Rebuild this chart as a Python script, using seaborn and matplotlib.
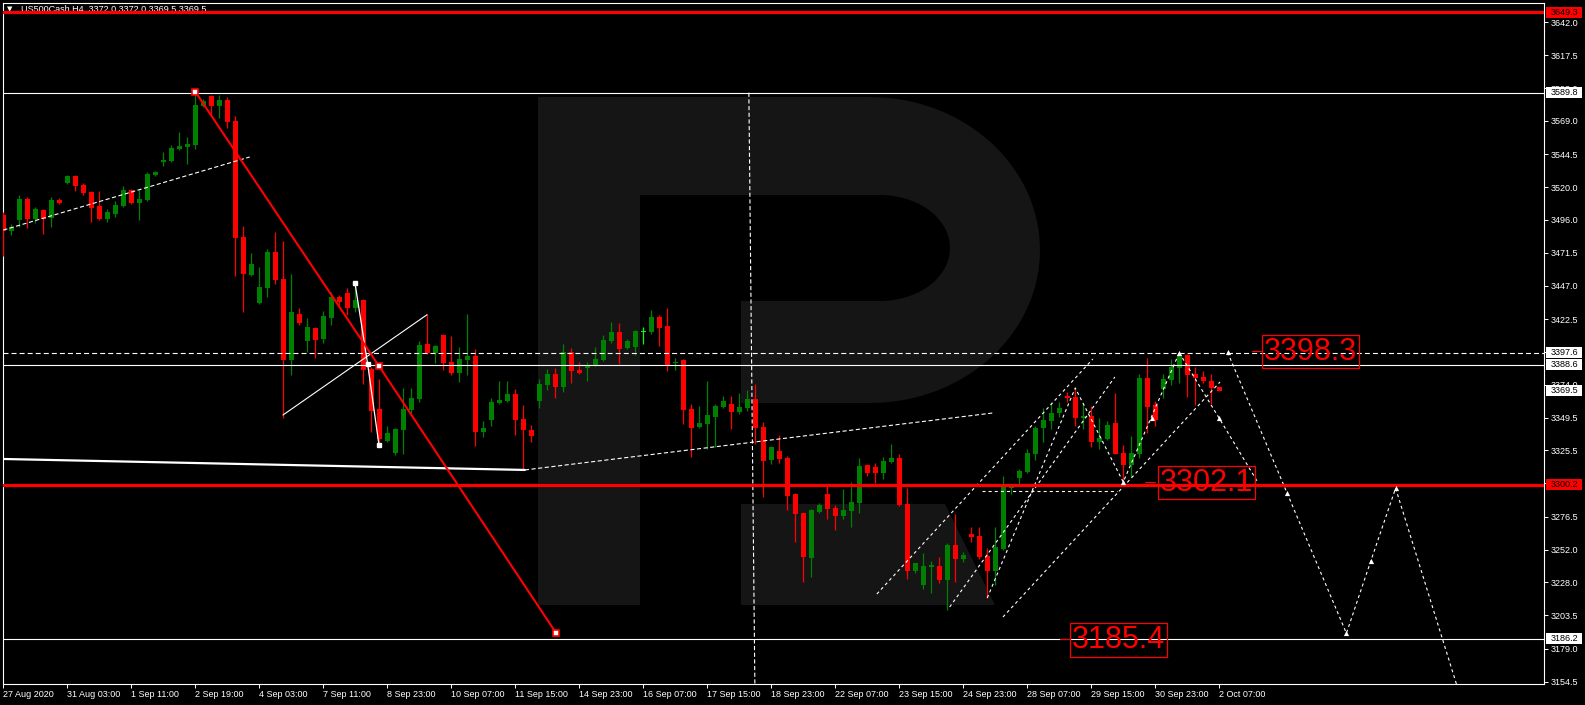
import numpy as np
import pandas as pd
import matplotlib
matplotlib.use("Agg")
import matplotlib.pyplot as plt
import seaborn as sns
from matplotlib.patches import Polygon, Rectangle
from matplotlib.transforms import blended_transform_factory

# ---------------- data (US500Cash, H4) ----------------
open_ = [3499.4, 3487.6, 3495.7, 3511.2, 3496.5, 3503.1, 3497.2, 3510.5, 3523.1, 3528.2,
         3521.6, 3516.4, 3506.1, 3496.5, 3500.2, 3506.1, 3517.9, 3508.3, 3510.5, 3529.0,
         3538.6, 3539.3, 3548.2, 3549.7, 3551.1, 3580.0, 3587.4, 3580.0, 3584.4, 3568.9,
         3483.2, 3455.1, 3434.4, 3445.5, 3472.1, 3452.1, 3392.3, 3426.3, 3406.3, 3415.9,
         3407.8, 3423.3, 3438.8, 3441.8, 3430.7, 3436.6, 3385.6, 3356.0, 3332.4, 3323.5,
         3340.5, 3355.3, 3363.4, 3404.1, 3397.4, 3410.7, 3390.8, 3382.7, 3392.3, 3395.2,
         3339.0, 3347.9, 3360.5, 3362.0, 3367.1, 3348.7, 3340.5, 3362.0, 3373.8, 3381.9,
         3372.3, 3398.2, 3384.9, 3386.4, 3388.6, 3392.3, 3406.3, 3413.0, 3401.1, 3401.9,
         3413.3, 3413.0, 3424.0, 3417.4, 3390.0, 3392.3, 3356.0, 3342.8, 3345.0, 3350.1,
         3357.5, 3359.7, 3353.8, 3356.8, 3363.4, 3342.8, 3318.4, 3325.0, 3319.8, 3293.2,
         3279.2, 3245.9, 3279.9, 3293.2, 3282.9, 3277.0, 3280.7, 3286.6, 3314.7, 3313.2,
         3308.8, 3316.9, 3319.8, 3285.8, 3236.3, 3226.0, 3239.3, 3240.0, 3229.7, 3255.6,
         3245.2, 3263.7, 3262.2, 3247.4, 3236.3, 3252.6, 3297.7, 3305.0, 3309.5, 3322.8,
         3342.0, 3347.2, 3353.1, 3365.6, 3364.9, 3349.4, 3350.9, 3331.7, 3333.9, 3345.7,
         3323.5, 3314.7, 3322.8, 3379.0, 3359.0, 3370.8, 3377.5, 3386.4, 3396.0, 3381.9,
         3379.7, 3376.7, 3372.0]
high = [3501.6, 3492.8, 3514.2, 3512.7, 3505.3, 3503.9, 3512.7, 3512.0, 3529.0, 3529.0,
        3523.1, 3517.2, 3517.2, 3503.9, 3509.8, 3520.8, 3518.6, 3517.9, 3531.2, 3531.9,
        3546.0, 3551.1, 3560.8, 3557.1, 3589.8, 3585.1, 3588.1, 3588.1, 3586.6, 3572.6,
        3491.3, 3471.3, 3461.0, 3474.3, 3486.9, 3480.2, 3455.8, 3430.7, 3423.3, 3416.6,
        3428.5, 3442.5, 3440.3, 3445.5, 3448.4, 3437.3, 3387.1, 3378.2, 3343.5, 3342.0,
        3371.6, 3371.6, 3406.3, 3426.3, 3403.3, 3411.5, 3410.0, 3401.9, 3426.3, 3400.4,
        3347.2, 3364.2, 3376.7, 3376.7, 3370.8, 3359.0, 3344.2, 3378.2, 3385.6, 3386.4,
        3404.1, 3401.1, 3390.8, 3390.8, 3401.9, 3410.7, 3420.3, 3419.6, 3407.8, 3414.4,
        3416.6, 3429.2, 3425.5, 3430.7, 3393.7, 3393.0, 3359.7, 3358.3, 3376.7, 3359.7,
        3365.6, 3365.6, 3367.9, 3370.1, 3374.5, 3346.4, 3328.7, 3336.8, 3321.3, 3294.0,
        3279.5, 3282.2, 3286.6, 3299.1, 3285.1, 3296.9, 3302.1, 3319.8, 3315.0, 3316.1,
        3320.6, 3330.2, 3322.8, 3297.7, 3242.5, 3249.6, 3243.7, 3246.7, 3257.0, 3278.5,
        3250.4, 3268.8, 3268.8, 3253.3, 3268.8, 3306.5, 3299.9, 3311.7, 3326.5, 3343.5,
        3356.8, 3361.2, 3361.2, 3368.6, 3371.6, 3359.7, 3358.3, 3349.4, 3347.2, 3367.9,
        3329.4, 3336.1, 3381.9, 3393.7, 3362.0, 3381.9, 3393.0, 3397.6, 3396.7, 3387.1,
        3384.1, 3381.9, 3372.0]
low = [3469.1, 3484.6, 3490.5, 3489.8, 3493.5, 3485.4, 3490.5, 3507.5, 3522.3, 3517.2,
       3514.2, 3494.2, 3496.0, 3494.2, 3497.9, 3505.3, 3507.5, 3495.7, 3509.8, 3528.2,
       3535.6, 3538.6, 3547.5, 3537.1, 3548.2, 3579.2, 3573.3, 3571.1, 3563.7, 3454.3,
       3427.7, 3454.5, 3434.0, 3438.8, 3448.4, 3349.4, 3381.2, 3418.1, 3398.2, 3393.7,
       3404.8, 3418.1, 3432.9, 3425.5, 3427.7, 3374.5, 3339.0, 3329.4, 3331.7, 3322.1,
       3322.8, 3353.1, 3361.2, 3396.5, 3390.0, 3384.9, 3381.2, 3376.0, 3381.2, 3328.7,
       3335.3, 3343.5, 3359.8, 3361.2, 3336.8, 3311.0, 3331.7, 3356.8, 3370.1, 3364.2,
       3368.6, 3375.3, 3381.9, 3376.7, 3387.8, 3391.5, 3404.8, 3389.3, 3400.4, 3396.0,
       3404.1, 3411.7, 3402.6, 3384.1, 3384.9, 3345.0, 3320.6, 3342.0, 3326.5, 3328.0,
       3356.8, 3341.3, 3352.4, 3354.6, 3330.2, 3291.0, 3315.4, 3316.2, 3281.4, 3257.8,
       3228.2, 3231.9, 3279.5, 3274.8, 3266.6, 3274.8, 3268.8, 3279.2, 3306.5, 3301.4,
       3304.3, 3316.1, 3284.4, 3230.4, 3234.9, 3223.0, 3220.1, 3227.5, 3207.5, 3228.2,
       3243.0, 3257.8, 3245.2, 3216.4, 3226.0, 3252.0, 3293.2, 3300.6, 3308.8, 3318.4,
       3331.7, 3341.3, 3350.1, 3361.2, 3343.5, 3341.3, 3328.0, 3326.5, 3333.1, 3322.5,
       3302.1, 3305.8, 3319.8, 3338.3, 3343.5, 3364.2, 3373.8, 3375.3, 3364.9, 3359.0,
       3375.3, 3359.7, 3369.5]
close = [3487.6, 3490.5, 3511.2, 3496.5, 3503.9, 3496.5, 3510.5, 3508.3, 3528.2, 3520.8,
         3515.7, 3504.6, 3496.5, 3501.6, 3506.8, 3517.9, 3508.3, 3511.2, 3529.7, 3531.2,
         3540.1, 3548.9, 3550.4, 3551.9, 3580.7, 3583.7, 3580.0, 3584.4, 3568.1, 3482.4,
         3455.8, 3463.2, 3446.2, 3472.1, 3451.4, 3392.3, 3427.7, 3419.6, 3416.6, 3407.0,
         3424.8, 3438.8, 3435.1, 3430.7, 3436.6, 3384.9, 3354.6, 3333.9, 3338.3, 3341.3,
         3356.0, 3364.2, 3403.3, 3397.4, 3402.6, 3390.0, 3382.7, 3393.0, 3395.2, 3339.0,
         3342.0, 3361.2, 3362.7, 3367.1, 3347.9, 3340.5, 3336.1, 3374.5, 3381.9, 3372.3,
         3398.2, 3384.1, 3382.7, 3388.6, 3393.0, 3407.0, 3413.0, 3400.4, 3406.3, 3413.7,
         3413.3, 3424.0, 3415.9, 3387.8, 3390.8, 3355.3, 3342.0, 3345.7, 3351.6, 3358.3,
         3362.0, 3353.8, 3357.5, 3363.4, 3342.0, 3317.6, 3328.0, 3319.1, 3291.8, 3278.5,
         3246.7, 3281.4, 3285.1, 3282.2, 3277.0, 3281.4, 3287.3, 3313.9, 3308.8, 3308.8,
         3317.6, 3319.8, 3285.1, 3236.3, 3242.2, 3240.0, 3240.8, 3229.7, 3255.6, 3245.2,
         3248.2, 3261.5, 3246.7, 3236.3, 3254.1, 3298.4, 3298.4, 3310.2, 3323.5, 3342.0,
         3347.9, 3353.1, 3356.8, 3364.2, 3349.4, 3350.9, 3331.7, 3334.6, 3344.2, 3322.8,
         3314.7, 3323.5, 3379.0, 3357.5, 3347.9, 3378.2, 3387.1, 3396.0, 3381.2, 3379.0,
         3376.7, 3371.6, 3369.5]

x_tick_bars = list(range(0, 153, 8))
x_tick_labels = ["27 Aug 2020", "31 Aug 03:00", "1 Sep 11:00", "2 Sep 19:00", "4 Sep 03:00",
                 "7 Sep 11:00", "8 Sep 23:00", "10 Sep 07:00", "11 Sep 15:00", "14 Sep 23:00",
                 "16 Sep 07:00", "17 Sep 15:00", "18 Sep 23:00", "22 Sep 07:00", "23 Sep 15:00",
                 "24 Sep 23:00", "28 Sep 07:00", "29 Sep 15:00", "30 Sep 23:00", "2 Oct 07:00"]
y_ticks = [3642.0, 3617.5, 3593.0, 3569.0, 3544.5, 3520.0, 3496.0, 3471.5, 3447.0, 3422.5,
           3398.0, 3374.0, 3349.5, 3325.5, 3301.0, 3276.5, 3252.0, 3228.0, 3203.5, 3179.0, 3154.5]

# horizontal levels
red_levels = [3649.3, 3300.2]
white_levels = [3589.8, 3388.6, 3186.2]
dashed_level = 3397.6
last_price = 3369.5

# analysis drawings (bar index, price)
red_trend_x = [24.0, 46.96, 69.1]
red_trend_y = [3590.5, 3387.8, 3190.5]
early_trend_x = [0.0, 30.8]
early_trend_y = [3488.3, 3542.3]
support_solid_x = [0.0, 65.2]
support_solid_y = [3319.1, 3311.0]
support_dash_x = [65.2, 123.7]
support_dash_y = [3311.0, 3353.1]
cross1_x = [34.96, 52.96]
cross1_y = [3351.6, 3425.7]
cross2_x = [43.96, 45.55, 46.96]
cross2_y = [3449.2, 3389.1, 3329.4]
vert_x = [93.2, 93.95]
vert_y = [3589.8, 3152.8]
chan1_x = [109.2, 136.2]
chan1_y = [3219.3, 3393.0]
chan2_x = [118.3, 138.95]
chan2_y = [3209.7, 3379.7]
chan3_x = [124.96, 152.1]
chan3_y = [3202.3, 3376.0]
hdash_x = [122.3, 139.2]
hdash_y = [3295.1, 3295.1]
wave_x = [123.0, 134.0, 140.0, 147.0]
wave_y = [3216.4, 3371.6, 3302.1, 3397.6]
pathA_x = [147.0, 152.0, 156.9]
pathA_y = [3397.6, 3349.2, 3301.1]
pathB_x = [153.05, 160.5, 167.9, 170.96, 174.05, 181.8]
pathB_y = [3397.9, 3293.7, 3190.3, 3243.9, 3297.5, 3150.0]
arrow_x = [147.0, 152.0, 153.05, 160.5, 167.9, 170.96, 174.05, 143.6, 140.0]
arrow_y = [3397.6, 3349.2, 3397.9, 3293.7, 3190.3, 3243.9, 3297.5, 3349.6, 3302.1]
target_labels = ["3398.3", "3302.1", "3185.4"]
target_x = [163.4, 150.4, 139.4]
target_y = [3398.5, 3301.7, 3185.2]

# ---------------- style ----------------
sns.set_theme(style="ticks", rc={
    "axes.facecolor": "black", "figure.facecolor": "black",
    "axes.edgecolor": "white", "xtick.color": "white", "ytick.color": "white",
    "text.color": "white", "axes.grid": False, "lines.scale_dashes": False,
})
plt.rcParams['font.family'] = ['Liberation Sans', 'DejaVu Sans']

W, H = 1585, 705
fig = plt.figure(figsize=(W / 100, H / 100), dpi=100, facecolor="black")
ax = fig.add_axes([3 / W, 21 / H, 1541 / W, 681 / H])
ax.set_facecolor("black")


def pxa(x, y):
    return ((x - 3) / 1541, (684 - y) / 681)


# watermark logo (decoration)
wm = "#151515"
t = np.linspace(np.pi / 2, -np.pi / 2, 60)
outer = [pxa(870 + 170 * np.cos(a), 250 - 153 * np.sin(a)) for a in t]
inner = [pxa(880 + 70 * np.cos(a), 248 - 53 * np.sin(a)) for a in -t]
logo = [pxa(538, 97)] + outer + [pxa(741, 403), pxa(741, 301)] + inner + \
       [pxa(640, 195), pxa(640, 605), pxa(538, 605)]
ax.add_patch(Polygon(logo, closed=True, transform=ax.transAxes, color=wm, lw=0, zorder=0))
leg = [pxa(741, 504), pxa(945, 504), pxa(995, 605), pxa(741, 605)]
ax.add_patch(Polygon(leg, closed=True, transform=ax.transAxes, color=wm, lw=0, zorder=0))

# ---------------- candles ----------------
df = pd.DataFrame({"o": open_, "h": high, "l": low, "c": close})
df["i"] = np.arange(len(df))
cols = np.where(df.c > df.o, "#008000", np.where(df.c < df.o, "#ff0000", "#00ff00"))
ax.vlines(df.i, df.l, df.h, colors=cols, lw=0.9, zorder=3)
bottom = np.minimum(df.o, df.c)
height = np.maximum((df.c - df.o).abs(), 0.75)
ax.bar(df.i, height, bottom=bottom, width=0.62, color=cols, lw=0, zorder=4)

# ---------------- levels ----------------
for lv in red_levels:
    ax.axhline(lv, color="#ff0000", lw=2.3, zorder=7)
for lv in white_levels:
    ax.axhline(lv, color="white", lw=0.8, zorder=6)
ax.axhline(dashed_level, color="white", lw=0.8, ls=(0, (3.6, 2.2)), zorder=6)


def sline(xs, ys, color="white", lw=0.8, ls="-", z=6):
    sns.lineplot(x=xs, y=ys, ax=ax, color=color, lw=lw, sort=False, estimator=None,
                 legend=False, zorder=z)
    ln = ax.lines[-1]
    ln.set_linestyle(ls)
    ln.set_zorder(z)


dot = (0, (2.2, 2.2))
dash = (0, (3.0, 1.8))
sline(red_trend_x, red_trend_y, color="#ff0000", lw=1.5, z=7)
ax.plot([red_trend_x[0], red_trend_x[1], red_trend_x[2]], red_trend_y, ls="none", marker="s",
        ms=4, mfc="white", mec="#ff0000", mew=1.2, zorder=8)
sline(early_trend_x, early_trend_y, ls=dash)
sline(support_solid_x, support_solid_y, lw=1.6)
sline(support_dash_x, support_dash_y, ls=dash)
sline(cross1_x, cross1_y, lw=0.8)
sline(cross2_x, cross2_y, lw=0.9)
ax.plot(cross2_x, cross2_y, ls="none", marker="s", ms=3.5, color="white", zorder=8)
sline(vert_x, vert_y, ls=dash)
for xs, ys in [(chan1_x, chan1_y), (chan2_x, chan2_y), (chan3_x, chan3_y), (hdash_x, hdash_y),
               (wave_x, wave_y), (pathA_x, pathA_y), (pathB_x, pathB_y)]:
    sline(xs, ys, lw=0.8, ls=dot)
sns.scatterplot(x=arrow_x, y=arrow_y, ax=ax, marker="^", s=14, color="white",
                linewidth=0, zorder=8, legend=False)

# target labels
for txt, tx, ty in zip(target_labels, target_x, target_y):
    ax.text(tx, ty, txt, color="#ff0000", fontsize=22, ha="center", va="center",
            family=["Liberation Sans", "DejaVu Sans"], zorder=9,
            bbox=dict(boxstyle="square,pad=0.06", fc="none", ec="#ff0000", lw=0.9))
ax.plot([156.1, 157.3], [3398.9, 3398.9], color="#ff0000", lw=0.8, zorder=8)
ax.plot([142.7, 143.97], [3302.1, 3302.1], color="#ff0000", lw=0.8, zorder=8)
ax.plot([132.1, 133.3], [3185.9, 3185.9], color="#ff0000", lw=0.8, zorder=8)

# ---------------- axes ----------------
ax.set_xlim(-0.04, 192.6)
ax.set_ylim(3152.8, 3656.1)
ax.yaxis.tick_right()
ax.set_yticks(y_ticks)
ax.set_yticklabels([f"{v:.1f}" for v in y_ticks])
ax.set_xticks(x_tick_bars)
ax.set_xticklabels(x_tick_labels, ha="left")
ax.tick_params(axis="both", colors="white", labelsize=6.5, length=3, width=0.7, direction="out")
ax.tick_params(axis="y", pad=2)
ax.tick_params(axis="x", pad=1.5)
for s in ax.spines.values():
    s.set_color("white")
    s.set_linewidth(0.8)
ax.set_xlabel("")
ax.set_ylabel("")

# price boxes on the right scale
tr = blended_transform_factory(ax.transAxes, ax.transData)
box_h = 11 / 1.353
boxes = [(3649.3, "#ff0000"), (3589.8, "white"), (dashed_level, "white"), (3388.6, "white"),
         (last_price, "white"), (3300.2, "#ff0000"), (3186.2, "white")]
for pv, fc in boxes:
    ax.add_patch(Rectangle((1.0013, pv - box_h / 2), 0.0234, box_h, transform=tr, fc=fc,
                           ec="none", clip_on=False, zorder=20))
    ax.text(1.0130, pv, f"{pv:.1f}", transform=tr, ha="center", va="center", fontsize=6.5,
            color="black", clip_on=False, zorder=21)

# title
ax.text(*pxa(21, 9), "US500Cash,H4  3372.0 3372.0 3369.5 3369.5", transform=ax.transAxes,
        fontsize=6.5, color="white", ha="left", va="center", zorder=6)
ax.text(*pxa(10, 9), "\u25bc", transform=ax.transAxes, fontsize=5, color="white",
        ha="center", va="center", family=["DejaVu Sans"], zorder=6)

fig.savefig("out.png", dpi=100, facecolor="black")
